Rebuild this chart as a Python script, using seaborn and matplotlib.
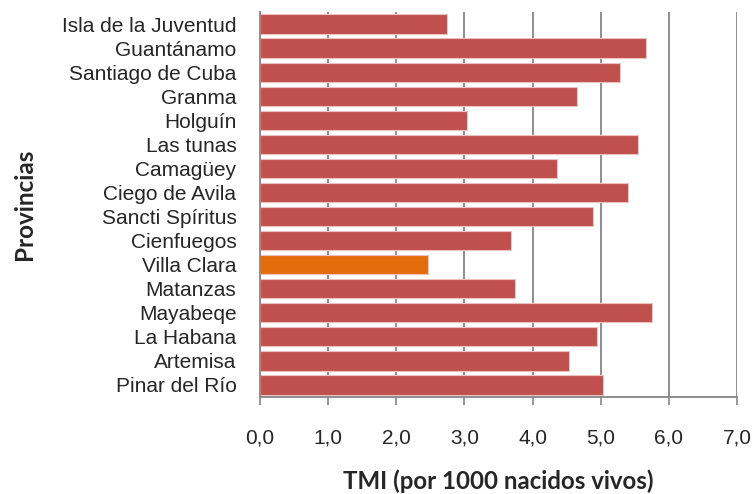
import matplotlib
matplotlib.use("Agg")
import matplotlib.pyplot as plt
import seaborn as sns
import pandas as pd

provincias = ["Isla de la Juventud", "Guantánamo", "Santiago de Cuba", "Granma",
              "Holguín", "Las tunas", "Camagüey", "Ciego de Avila",
              "Sancti Spíritus", "Cienfuegos", "Villa Clara", "Matanzas",
              "Mayabeqe", "La Habana", "Artemisa", "Pinar del Río"]
tmi = [2.75, 5.66, 5.29, 4.65, 3.04, 5.54, 4.36, 5.40,
       4.88, 3.69, 2.46, 3.74, 5.75, 4.95, 4.53, 5.04]
highlight = "Villa Clara"
xticks = [0, 1, 2, 3, 4, 5, 6, 7]
xticklabels = ["0,0", "1,0", "2,0", "3,0", "4,0", "5,0", "6,0", "7,0"]

RED = "#C0504D"
ORANGE = "#E46C0A"

sns.set_style("white")
plt.rcParams['font.family'] = ['Liberation Sans', 'DejaVu Sans']

df = pd.DataFrame({"prov": provincias, "tmi": tmi})
palette = {p: (ORANGE if p == highlight else RED) for p in provincias}

fig = plt.figure(figsize=(7.55, 4.94), dpi=100)
ax = fig.add_axes([260/755, 1-397/494, 477/755, 385/494])

sns.barplot(data=df, x="tmi", y="prov", hue="prov", palette=palette,
            legend=False, width=0.8, orient="h", ax=ax,
            edgecolor="#EBC0BF", linewidth=0.8, saturation=1)

ax.set_xlim(0, 7)
ax.set_ylim(len(provincias) - 0.5, -0.5)
ax.set_xticks(xticks)
ax.set_xticklabels(xticklabels, fontsize=15)
ax.tick_params(axis='x', direction='out', length=5.5, width=1.2, color="#868686", pad=17, bottom=True)
ax.tick_params(axis='y', length=0, pad=17, labelsize=15)
ax.set_xlabel("")
ax.set_ylabel("")
ax.xaxis.grid(True, color="#868686", linewidth=1.3)
ax.yaxis.grid(False)
ax.set_axisbelow(True)
for s in ["top", "right"]:
    ax.spines[s].set_visible(False)
for s in ["left", "bottom"]:
    ax.spines[s].set_color("#868686")
    ax.spines[s].set_linewidth(1.3)

fig.text(498/755, 1-481/494, "TMI (por 1000 nacidos vivos)", ha="center", va="center",
         fontsize=17.3, fontweight="bold", family=["Lato", "DejaVu Sans"])
fig.text(25/755, 1-204/494, "Provincias", ha="center", va="center", rotation=90,
         fontsize=17.5, fontweight="bold", family=["Lato", "DejaVu Sans"])

fig.savefig("out.png", dpi=100)
